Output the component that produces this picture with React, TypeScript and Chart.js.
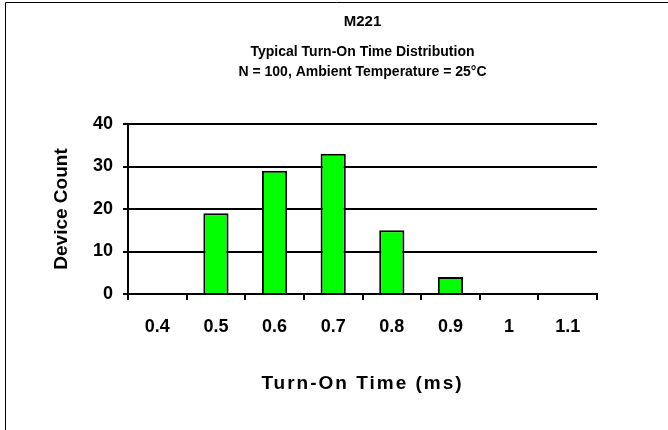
import React, { useEffect, useRef } from "react";
import { Chart, registerables } from "chart.js";

Chart.register(...registerables);

const categories = ["0.4", "0.5", "0.6", "0.7", "0.8", "0.9", "1", "1.1"];
const deviceCounts = [0, 19, 29, 33, 15, 4, 0, 0];
const yTicks = [0, 10, 20, 30, 40];
const titleText = "M221";
const subtitleLines = ["Typical Turn-On Time Distribution", "N = 100, Ambient Temperature = 25°C"];
const xTitle = "Turn-On Time (ms)";
const yTitle = "Device Count";

const FONT = "'Liberation Sans', Arial, sans-serif";

const frame = {
  id: "frame",
  afterDraw(chart: any) {
    const ctx = chart.ctx;
    ctx.save();
    ctx.strokeStyle = "#000";
    ctx.lineWidth = 1;
    ctx.beginPath();
    ctx.moveTo(5.5, 430);
    ctx.lineTo(5.5, 2.5);
    ctx.lineTo(668, 2.5);
    ctx.stroke();
    ctx.restore();
  },
};

export default function App() {
  const ref = useRef<HTMLCanvasElement>(null);
  useEffect(() => {
    document.body.style.margin = "0";
    const chart = new Chart(ref.current!, {
      type: "bar",
      data: {
        labels: categories,
        datasets: [
          {
            data: deviceCounts,
            backgroundColor: "#00FF00",
            borderColor: "#000",
            borderWidth: 2,
            barPercentage: 0.43,
            categoryPercentage: 1,
          },
        ],
      },
      options: {
        animation: false,
        responsive: false,
        layout: { padding: { top: 0, left: 0, right: 71, bottom: 0 } },
        plugins: {
          legend: { display: false },
          tooltip: { enabled: false },
          title: {
            display: true,
            text: titleText,
            color: "#000",
            fullSize: false,
            font: { family: FONT, size: 15, weight: "bold", lineHeight: 1.2 },
            padding: { top: 13, bottom: 9 },
          },
          subtitle: {
            display: true,
            text: subtitleLines,
            color: "#000",
            fullSize: false,
            font: { family: FONT, size: 14, weight: "bold", lineHeight: 20 / 14 },
            padding: { top: 2, bottom: 42 },
          },
        },
        scales: {
          x: {
            grid: { drawOnChartArea: false, drawTicks: true, tickLength: 6, color: "#000", lineWidth: 2 },
            border: { color: "#000", width: 2 },
            ticks: { color: "#000", font: { family: FONT, size: 18, weight: "bold" }, padding: 16, maxRotation: 0 },
            title: {
              display: true,
              text: xTitle,
              color: "#000",
              font: { family: FONT, size: 19, weight: "bold", lineHeight: 1.2 },
              padding: { top: 0, bottom: 35 },
            },
            afterFit(scale: any) {
              scale.height = 430 - 294;
              if (!scale.__patched) {
                const orig = scale.drawTitle;
                scale.drawTitle = function (...args: any[]) {
                  const ctx = this.ctx;
                  ctx.save();
                  ctx.letterSpacing = "2px";
                  orig.apply(this, args);
                  ctx.restore();
                };
                scale.__patched = true;
              }
            },
          },
          y: {
            min: 0,
            max: 40,
            afterBuildTicks(scale: any) {
              scale.ticks = yTicks.map((v) => ({ value: v }));
            },
            grid: { color: "#000", lineWidth: 2, tickLength: 5 },
            border: { color: "#000", width: 2 },
            ticks: { color: "#000", font: { family: FONT, size: 18, weight: "bold" }, padding: 10 },
            title: {
              display: true,
              text: yTitle,
              color: "#000",
              font: { family: FONT, size: 19, weight: "bold", lineHeight: 1.2 },
              padding: { top: 50, bottom: 0 },
            },
            afterFit(scale: any) {
              scale.width = 128;
            },
          },
        },
      },
      plugins: [frame],
    });
    return () => chart.destroy();
  }, []);
  return (
    <div style={{ position: "absolute", left: 0, top: 0, width: 668, height: 430 }}>
      <canvas ref={ref} width={668} height={430} style={{ display: "block", width: 668, height: 430 }} />
    </div>
  );
}
